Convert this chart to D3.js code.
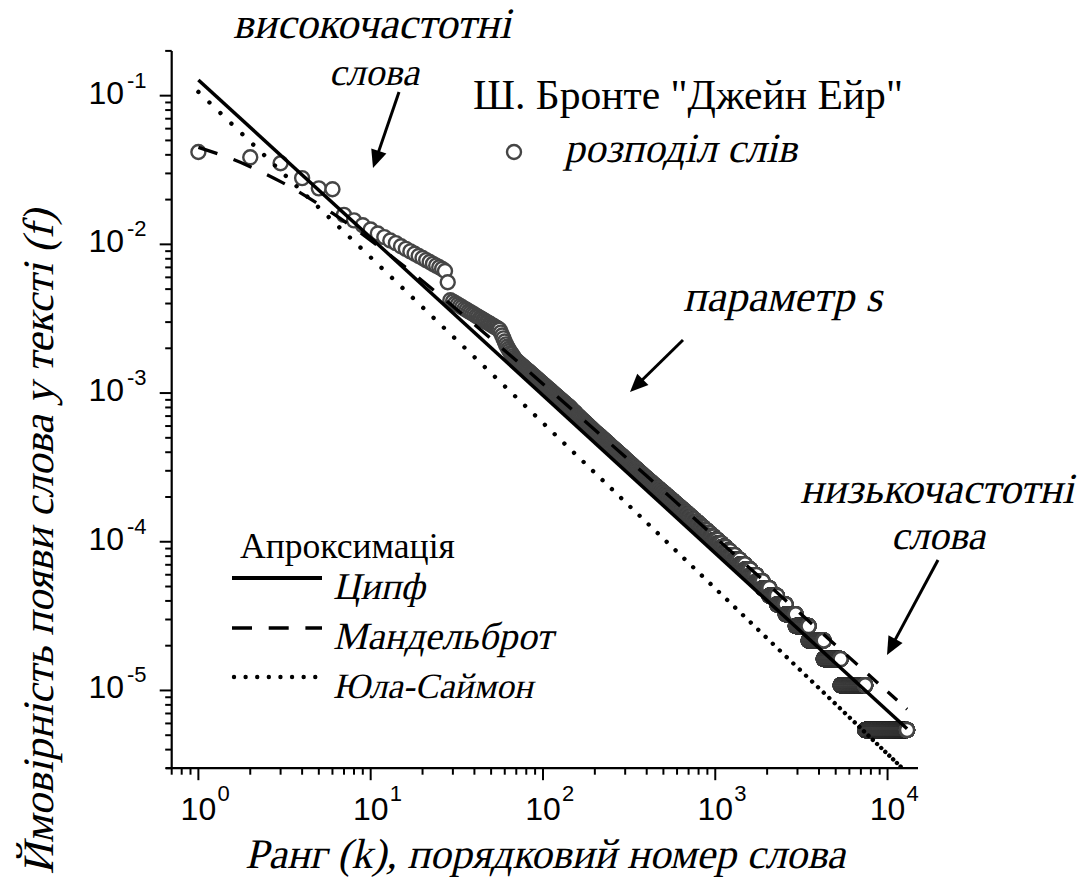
<!DOCTYPE html>
<html>
<head>
<meta charset="utf-8">
<script src="https://cdn.jsdelivr.net/npm/d3@7"></script>
<style>
  body { margin: 0; background: #fff; }
  svg { display: block; }
</style>
</head>
<body>
<svg id="chart" width="1087" height="895"></svg>
<script>
// Word counts of the most frequent words, by rank (rank = index + 1)
const topCounts = [
  7712, 7103, 6476, 5148, 4391, 4336,
  2913, 2675, 2483, 2321, 2184, 2065, 1958, 1880, 1791, 1721, 1655, 1596, 1542, 1493,
  1446, 1404, 1363, 1328, 1293, 1262, 1221, 1026,
  777, 760, 741, 727, 710, 697, 681, 670, 655, 645, 632, 623, 610, 602, 590, 583,
  572, 565, 555, 549, 539, 533, 524, 519, 510, 506, 497, 492,
  470, 450, 430, 410, 392, 378, 365, 354, 344, 336, 327, 318,
  310, 305, 301, 296, 292, 288, 284, 281, 277, 273, 270, 266,
  263, 260, 257, 254, 250, 248, 245, 242, 239, 236, 234, 231, 229, 226, 224, 221, 219, 217, 214, 212,
  210, 208, 206, 204, 202, 200, 198, 196, 194, 193, 191, 189, 187, 186, 184, 182, 181, 179, 178, 176,
  175, 173, 172, 170, 169, 168, 166, 165, 164, 162, 161, 160, 159, 157, 156, 155, 154, 153, 152, 151
];

// Frequency spectrum of the rest of the vocabulary:
// spectrumWords[n - 1] = number of distinct words used exactly n times
const spectrumWords = [
  5560, 2080, 1080, 780, 550, 370, 280, 220, 177,
  150, 132, 115, 100, 88, 79, 70, 62, 56, 50, 46, 41, 38, 35, 32, 30, 27, 26, 24, 22, 21,
  20, 19, 18, 16, 16, 15, 14, 13, 13, 12, 12, 11, 10, 10, 10, 9, 9, 8, 8, 8,
  7, 7, 7, 6, 6, 6, 6, 6, 5, 5, 5, 5, 5, 4, 5, 4, 4, 4, 4, 4,
  4, 4, 3, 4, 3, 3, 4, 3, 3, 3,
  3, 3, 2, 3, 3, 2, 3, 2, 3, 2,
  2, 3, 2, 2, 2, 3, 2, 2, 2, 2,
  2, 2, 1, 2, 2, 1, 2, 2, 1, 2, 1, 2, 1, 2, 1, 1, 2, 1, 2, 1,
  1, 1, 2, 1, 1, 1, 1, 2, 1, 1, 1, 1, 1, 0, 1, 1, 2, 1, 1, 1, 1, 0, 1, 1, 1, 1, 0, 1, 1, 1
];

// Total number of words in the text
const totalWords = 184500;

// Fitted approximations (rank, probability)
const zipfRank = [1, 12980];
const zipfFreq = [0.1276, 5.52e-6];
const mandelRank = [1, 1.5, 2, 3, 4, 6, 8, 10, 15, 20, 30, 50, 100, 300, 1000, 3000, 12980];
const mandelFreq = [0.0449, 0.03826, 0.0333, 0.02641, 0.02185, 0.0162, 0.01285, 0.01063,
  0.007404, 0.005666, 0.003838, 0.002318, 0.001151, 0.0003725, 0.0001072, 3.425e-5, 7.48e-6];
const yuleRank = [1, 13000];
const yuleFreq = [0.106, 2.79e-6];

// Axis ticks
const xTickValues = [1, 10, 100, 1000, 10000];
const xTickExponents = ["0", "1", "2", "3", "4"];
const yTickValues = [1e-1, 1e-2, 1e-3, 1e-4, 1e-5];
const yTickExponents = ["-1", "-2", "-3", "-4", "-5"];

const svg = d3.select("#chart");

// pick the first installed serif family (Times-like preferred)
function installed(name) {
  const ctx = document.createElement("canvas").getContext("2d");
  const probe = "Ш. Бронте Апроксимація mmwwiill 0123";
  let differs = false;
  for (const base of ["monospace", "sans-serif"]) {
    ctx.font = `40px ${base}`;
    const w0 = ctx.measureText(probe).width;
    ctx.font = `40px '${name}', ${base}`;
    if (Math.abs(ctx.measureText(probe).width - w0) > 0.5) differs = true;
  }
  return differs;
}
const serifFamily = ["Liberation Serif", "Times New Roman", "Tinos", "Nimbus Roman", "FreeSerif",
  "Noto Serif", "DejaVu Serif"].find(installed);
const serif = (serifFamily ? `'${serifFamily}', ` : "") + "serif";
const sans = "'Liberation Sans', Arial, sans-serif";

const x = d3.scaleLog().domain([0.7, 15000]).range([171.7, 917.9]);
const y = d3.scaleLog().domain([3e-6, 0.2]).range([768.2, 50.9]);

// ---- data points: the rank–frequency distribution ----
const points = [];
topCounts.forEach((c, i) => points.push({ rank: i + 1, f: c / totalWords }));
let rank = topCounts.length;
for (let n = spectrumWords.length; n >= 1; n--) {
  for (let j = 0; j < spectrumWords[n - 1]; j++) points.push({ rank: ++rank, f: n / totalWords });
}

const markColor = "#454545";
const markR = 7;
svg.append("g")
  .selectAll("circle")
  .data(points)
  .join("circle")
  .attr("cx", d => x(d.rank))
  .attr("cy", d => y(d.f))
  .attr("r", markR)
  .attr("fill", "#fff")
  .attr("stroke", markColor)
  .attr("stroke-width", 2.4);

// ---- approximation lines ----
svg.append("clipPath").attr("id", "plotClip")
  .append("rect").attr("x", 171.7).attr("y", 50.9).attr("width", 917.9 - 171.7).attr("height", 768.2 - 50.9);

const line = d3.line().x(d => x(d[0])).y(d => y(d[1]));
const lines = svg.append("g").attr("clip-path", "url(#plotClip)").attr("fill", "none").attr("stroke", "#000");

// dash pattern whose period shrinks along the path
function variableDash(path, dashAt, gapAt) {
  const node = path.node();
  const L = node.getTotalLength();
  const arr = [];
  let s = 0;
  while (s < L) {
    const px = node.getPointAtLength(s).x;
    const d = dashAt(px), g = gapAt(px);
    arr.push(d, g);
    s += d + g;
  }
  path.attr("stroke-dasharray", arr.map(v => v.toFixed(2)).join(" "));
}

const dotSpacing = d3.scaleLinear().domain([200, 500, 700, 780, 840, 900]).range([15.3, 14, 12, 9.5, 7, 5]).clamp(true);
const yulePath = lines.append("path")
  .datum(d3.zip(yuleRank, yuleFreq))
  .attr("d", line)
  .attr("stroke-width", 4.4)
  .attr("stroke-linecap", "round");
variableDash(yulePath, () => 0.01, px => dotSpacing(px));

const dashLen = d3.scaleLinear().domain([200, 760, 900]).range([20, 19, 12]).clamp(true);
const gapLen = d3.scaleLinear().domain([200, 760, 900]).range([17, 17, 12]).clamp(true);
const mandelPath = lines.append("path")
  .datum(d3.zip(mandelRank, mandelFreq))
  .attr("d", line.curve(d3.curveCatmullRom))
  .attr("stroke-width", 3.3);
variableDash(mandelPath, px => dashLen(px), px => gapLen(px));
line.curve(d3.curveLinear);

lines.append("path")
  .datum(d3.zip(zipfRank, zipfFreq))
  .attr("d", line)
  .attr("stroke-width", 3.5);

// ---- axes ----
function logTicks(lo, hi) {
  const t = [];
  for (let e = Math.floor(Math.log10(lo)); e <= Math.ceil(Math.log10(hi)); e++) {
    for (let m = 1; m <= 9; m++) {
      const v = m * Math.pow(10, e);
      if (v >= lo * 0.999 && v <= hi * 1.001) t.push({ v, major: m === 1 });
    }
  }
  return t;
}
const axes = svg.append("g").attr("stroke", "#000");
axes.append("line").attr("x1", 166).attr("x2", 918).attr("y1", 768.2).attr("y2", 768.2).attr("stroke-width", 2.2);
axes.append("line").attr("x1", 171.7).attr("x2", 171.7).attr("y1", 50.9).attr("y2", 769).attr("stroke-width", 2.2);

axes.selectAll(".xt").data(logTicks(0.7, 15000)).join("line")
  .attr("x1", d => x(d.v)).attr("x2", d => x(d.v))
  .attr("y1", 768.2).attr("y2", d => 768.2 + (d.major ? 12 : 6.5))
  .attr("stroke-width", 2);
axes.selectAll(".yt").data(logTicks(3e-6, 0.2)).join("line")
  .attr("y1", d => y(d.v)).attr("y2", d => y(d.v))
  .attr("x1", 171.7).attr("x2", d => 171.7 - (d.major ? 12 : 6.5))
  .attr("stroke-width", 2);

const tickText = svg.append("g").attr("font-family", sans).attr("fill", "#000");
xTickValues.forEach((v, i) => {
  const cx = x(v);
  tickText.append("text").attr("x", cx).attr("y", 820).attr("text-anchor", "middle")
    .attr("font-size", 32).text("10");
  tickText.append("text").attr("x", cx + 19).attr("y", 801).attr("font-size", 22).text(xTickExponents[i]);
});
yTickValues.forEach((v, i) => {
  const cy = y(v);
  tickText.append("text").attr("x", 124).attr("y", cy + 8).attr("text-anchor", "end")
    .attr("font-size", 32).text("10");
  tickText.append("text").attr("x", 127).attr("y", cy - 8).attr("font-size", 22).text(yTickExponents[i]);
});

// scale a text's font so that it spans the given width
function fitWidth(sel, w) {
  const cur = sel.node().getComputedTextLength();
  if (cur > 0) sel.attr("font-size", (+sel.attr("font-size")) * w / cur);
  return sel;
}

// slanted serif text, sheared about its baseline point
const slant = -13;
function slantedText(parent, tx, ty, anchor, str, size, rotate) {
  return parent.append("text")
    .attr("transform", `translate(${tx},${ty})${rotate ? ` rotate(${rotate})` : ""} skewX(${slant})`)
    .attr("text-anchor", anchor)
    .attr("font-family", serif).attr("font-size", size).attr("fill", "#000")
    .text(str);
}

// ---- axis titles ----
fitWidth(slantedText(svg, 545, 868, "middle", "Ранг (k), порядковий номер слова", 40), 600);
fitWidth(slantedText(svg, 53, 542, "middle", "Ймовірність появи слова у тексті (f)", 40, -90), 665);

// ---- annotations ----
const note = svg.append("g");
fitWidth(slantedText(note, 372, 38, "middle", "високочастотні", 40), 278);
fitWidth(slantedText(note, 374, 85, "middle", "слова", 40), 90);
fitWidth(note.append("text").attr("x", 473).attr("y", 109)
  .attr("font-family", serif).attr("font-size", 40).text("Ш. Бронте \"Джейн Ейр\""), 430);
fitWidth(slantedText(note, 564, 162, "start", "розподіл слів", 40), 233);
fitWidth(slantedText(note, 683, 311, "start", "параметр s", 40), 199);
fitWidth(slantedText(note, 800, 503, "start", "низькочастотні", 40), 274);
fitWidth(slantedText(note, 938, 549, "middle", "слова", 40), 94);
fitWidth(note.append("text").attr("x", 240).attr("y", 558)
  .attr("font-family", serif).attr("font-size", 36).text("Апроксимація"), 215);

// legend for the distribution
svg.append("circle").attr("cx", 514).attr("cy", 152).attr("r", markR)
  .attr("fill", "#fff").attr("stroke", markColor).attr("stroke-width", 2.4);

// legend for the approximations
const legendNames = ["Ципф", "Мандельброт", "Юла-Саймон"];
const legendY = [578, 628, 677];
const legendW = [92, 220, 200];
const lg = svg.append("g");
lg.append("line").attr("x1", 232).attr("x2", 322).attr("y1", legendY[0]).attr("y2", legendY[0])
  .attr("stroke", "#000").attr("stroke-width", 3.8);
lg.append("line").attr("x1", 232).attr("x2", 322).attr("y1", legendY[1]).attr("y2", legendY[1])
  .attr("stroke", "#000").attr("stroke-width", 3.5).attr("stroke-dasharray", "20 16.7");
lg.append("line").attr("x1", 234).attr("x2", 322).attr("y1", legendY[2]).attr("y2", legendY[2])
  .attr("stroke", "#000").attr("stroke-width", 4.4).attr("stroke-linecap", "round")
  .attr("stroke-dasharray", "0.01 11.6");
legendNames.forEach((t, i) => fitWidth(slantedText(lg, 333, legendY[i] + 21, "start", t, 38), legendW[i]));

// ---- arrows ----
const arrows = [
  [[399, 92], [373, 168]],
  [[683, 340], [630, 392]],
  [[938, 560], [887, 655]]
];
const ag = svg.append("g");
arrows.forEach(([a, b]) => {
  const dx = b[0] - a[0], dy = b[1] - a[1];
  const len = Math.hypot(dx, dy), ux = dx / len, uy = dy / len;
  const headL = 18, headW = 8;
  const bx = b[0] - ux * headL, by = b[1] - uy * headL;
  ag.append("line").attr("x1", a[0]).attr("y1", a[1]).attr("x2", bx + ux * 2).attr("y2", by + uy * 2)
    .attr("stroke", "#000").attr("stroke-width", 3);
  ag.append("path")
    .attr("d", `M${b[0]},${b[1]}L${bx - uy * headW},${by + ux * headW}L${bx + uy * headW},${by - ux * headW}Z`)
    .attr("fill", "#000");
});
</script>
</body>
</html>
